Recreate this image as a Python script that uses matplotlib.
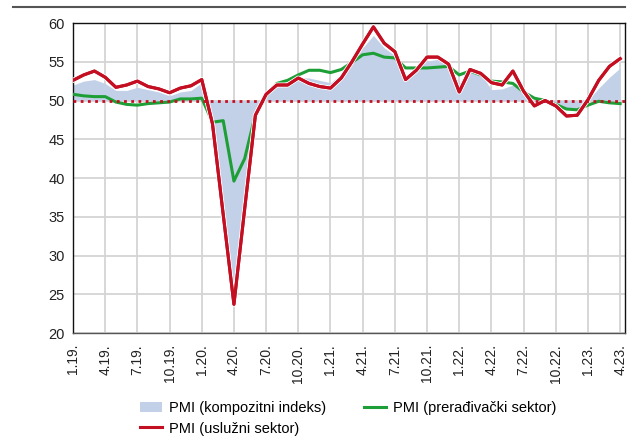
import numpy as np
import matplotlib
matplotlib.use("Agg")
import matplotlib.pyplot as plt
import matplotlib.patheffects as pe
from matplotlib.patches import Patch
from matplotlib.lines import Line2D

plt.rcParams['font.family'] = ['Liberation Sans Narrow', 'Liberation Sans', 'DejaVu Sans']

# monthly data, 1.19. - 4.23.
kompozitni = [52.0, 52.5, 52.7, 52.2, 51.3, 51.3, 51.7, 51.4, 51.1, 50.6,
              51.1, 51.3, 52.3, 47.5, 36.3, 25.0, 37.3, 48.0, 50.6, 52.4,
              52.4, 53.0, 52.9, 52.6, 52.3, 53.4, 55.0, 56.8, 58.4, 56.8,
              55.8, 53.0, 54.0, 55.1, 55.3, 54.6, 52.2, 54.0, 53.5, 51.4,
              51.5, 52.0, 51.0, 49.9, 50.1, 49.4, 48.8, 48.9, 50.0, 51.6,
              53.0, 54.2]
preradjivacki = [50.8, 50.6, 50.5, 50.5, 49.8, 49.5, 49.4, 49.6, 49.7, 49.8,
                 50.2, 50.2, 50.3, 47.2, 47.4, 39.6, 42.5, 48.2, 50.6, 52.2,
                 52.6, 53.3, 53.9, 53.9, 53.6, 54.0, 54.9, 55.9, 56.1, 55.6,
                 55.5, 54.2, 54.2, 54.2, 54.3, 54.4, 53.3, 53.8, 53.3, 52.5,
                 52.4, 52.2, 51.1, 50.3, 50.0, 49.5, 48.9, 48.8, 49.4, 49.9,
                 49.7, 49.6]
usluzni = [52.6, 53.3, 53.8, 53.0, 51.7, 52.0, 52.5, 51.8, 51.5, 51.0,
           51.6, 51.9, 52.7, 47.0, 35.3, 23.7, 36.0, 48.1, 50.8, 52.0,
           52.0, 52.9, 52.2, 51.8, 51.6, 52.9, 55.0, 57.3, 59.5, 57.4,
           56.3, 52.7, 53.9, 55.6, 55.6, 54.7, 51.1, 54.0, 53.5, 52.3,
           52.0, 53.8, 51.2, 49.3, 50.0, 49.3, 48.0, 48.1, 50.1, 52.6,
           54.4, 55.4]

tick_labels = ['1.19.', '4.19.', '7.19.', '10.19.', '1.20.', '4.20.', '7.20.',
               '10.20.', '1.21.', '4.21.', '7.21.', '10.21.', '1.22.', '4.22.',
               '7.22.', '10.22.', '1.23.', '4.23.']

red = '#c40f22'
green = '#1e9e36'
blue_fill = '#c3d1e8'

x = np.arange(len(usluzni))

fig = plt.figure(figsize=(6.35, 4.36), dpi=100)
ax = fig.add_axes([73/635, 1 - 333/436, (625 - 73)/635, (333 - 23)/436])

ax.fill_between(x, 50, kompozitni, color=blue_fill, lw=0, zorder=2)
ax.plot(x, preradjivacki, color=green, lw=2.2, zorder=3)
ax.plot(x, usluzni, color=red, lw=2.2, zorder=4,
        path_effects=[pe.withStroke(linewidth=3.6, foreground='white'), pe.Normal()])
ax.axhline(50, color=red, lw=2, ls=(0, (1, 1.6)), zorder=5)

ax.set_xlim(0, 51.45)
ax.set_ylim(20, 60)
ax.set_yticks(range(20, 61, 5))
ax.set_xticks(x[::3])
ax.set_xticklabels(tick_labels, rotation=90)
ax.tick_params(axis='y', length=0, labelsize=10.5, colors='#222222', pad=6)
ax.tick_params(axis='x', length=0, labelsize=10, colors='#222222', pad=8)
ax.grid(True, color='#d4d4d4', lw=1.3, zorder=0)
ax.set_axisbelow(True)
for s in ax.spines.values():
    s.set_color('#111111')
    s.set_linewidth(1.0)
ax.spines['bottom'].set_color('#555555')

# top rule line
fig.add_artist(Line2D([13/635, 625/635], [1 - 7/436, 1 - 7/436],
                      color='#555555', lw=1.5))

handles = [Patch(facecolor=blue_fill, edgecolor='none'),
           Line2D([], [], color=red, lw=2.2),
           Line2D([], [], color=green, lw=2.2)]
labels = ['PMI (kompozitni indeks)', 'PMI (uslužni sektor)', 'PMI (prerađivački sektor)']
fig.legend(handles, labels, ncol=2, loc='upper center',
           bbox_to_anchor=(348/635, 1 - 401/436), frameon=False,
           fontsize=10.5, handlelength=1.5, handletextpad=0.5,
           columnspacing=2.6, labelspacing=0.45, borderaxespad=0, borderpad=0)

fig.savefig('out.png', dpi=100)
